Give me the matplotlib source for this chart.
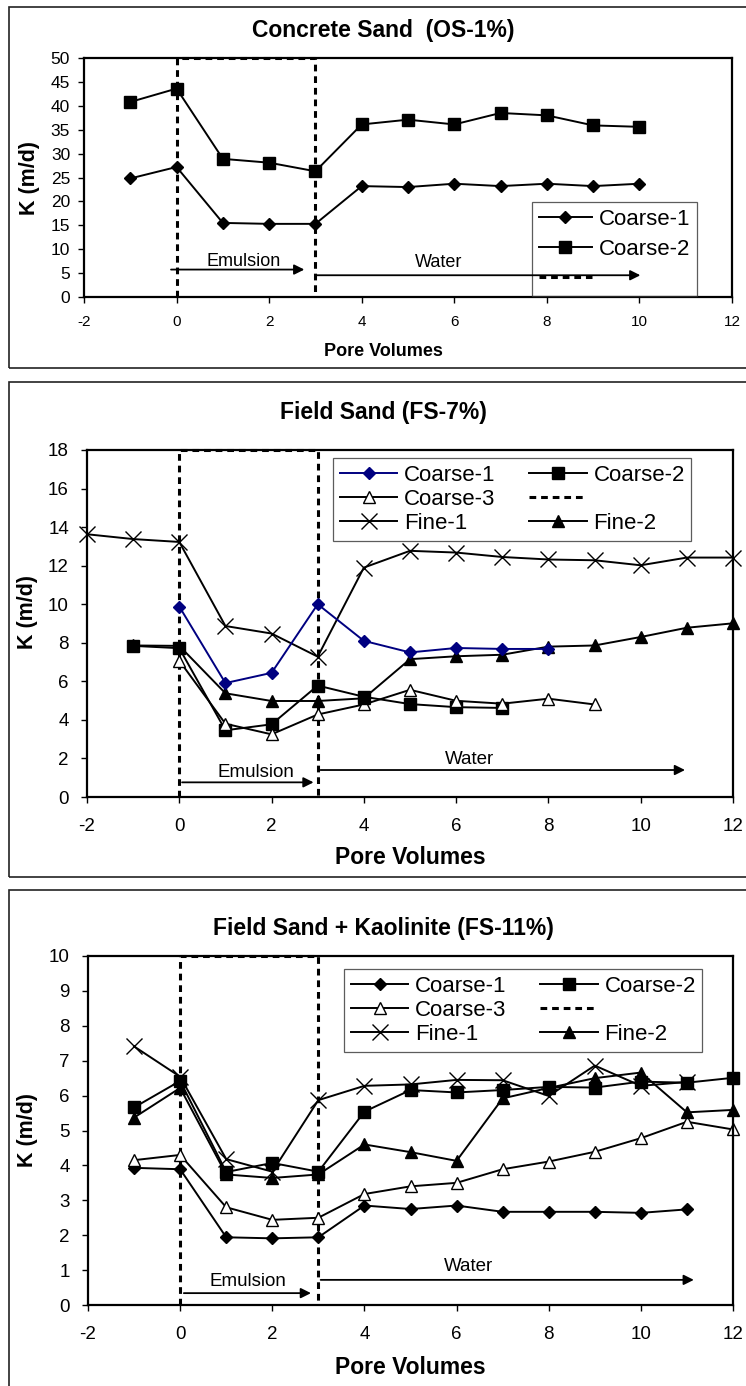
import matplotlib.pyplot as plt
from matplotlib.patches import Rectangle

W, H = 746, 1386
plt.rcParams['font.family'] = ['Liberation Sans', 'DejaVu Sans']
plt.rcParams['axes.unicode_minus'] = False

# ---- Concrete Sand (OS-1%)
os1_pv = [-1, 0, 1, 2, 3, 4, 5, 6, 7, 8, 9, 10]
os1_coarse1 = [24.8, 27.2, 15.5, 15.3, 15.3, 23.2, 23.0, 23.7, 23.2, 23.7, 23.2, 23.7]
os1_coarse2 = [40.8, 43.6, 28.9, 28.1, 26.3, 36.1, 37.1, 36.1, 38.5, 38.0, 35.9, 35.6]

# ---- Field Sand (FS-7%)
fs7_c1_pv = [0, 1, 2, 3, 4, 5, 6, 7, 8]
fs7_c1 = [9.88, 5.91, 6.44, 10.0, 8.1, 7.5, 7.73, 7.68, 7.68]
fs7_c2_pv = [-1, 0, 1, 2, 3, 4, 5, 6, 7]
fs7_c2 = [7.84, 7.72, 3.46, 3.77, 5.78, 5.2, 4.82, 4.66, 4.62]
fs7_c3_pv = [0, 1, 2, 3, 4, 5, 6, 7, 8, 9]
fs7_c3 = [7.07, 3.8, 3.25, 4.28, 4.8, 5.56, 4.99, 4.84, 5.1, 4.8]
fs7_f1_pv = [-2, -1, 0, 1, 2, 3, 4, 5, 6, 7, 8, 9, 10, 11, 12]
fs7_f1 = [13.63, 13.38, 13.23, 8.87, 8.48, 7.28, 11.9, 12.77, 12.68, 12.45, 12.32, 12.28, 12.02, 12.42, 12.42]
fs7_f2_pv = [-1, 0, 1, 2, 3, 4, 5, 6, 7, 8, 9, 10, 11, 12]
fs7_f2 = [7.86, 7.84, 5.38, 4.98, 4.98, 5.12, 7.15, 7.3, 7.38, 7.8, 7.86, 8.3, 8.78, 9.01]

# ---- Field Sand + Kaolinite (FS-11%)
fs11_pv = [-1, 0, 1, 2, 3, 4, 5, 6, 7, 8, 9, 10, 11, 12]
fs11_c1 = [3.93, 3.89, 1.94, 1.91, 1.94, 2.85, 2.75, 2.85, 2.67, 2.67, 2.67, 2.64, 2.74]
fs11_c2 = [5.66, 6.42, 3.81, 4.07, 3.82, 5.54, 6.16, 6.09, 6.16, 6.25, 6.23, 6.4, 6.37, 6.51]
fs11_c3 = [4.15, 4.3, 2.8, 2.44, 2.5, 3.18, 3.4, 3.5, 3.89, 4.11, 4.39, 4.78, 5.25, 5.03]
fs11_f1 = [7.41, 6.54, 4.18, 3.82, 5.87, 6.28, 6.32, 6.45, 6.44, 5.99, 6.86, 6.28, 6.39]
fs11_f2 = [5.37, 6.22, 3.74, 3.64, 3.74, 4.6, 4.38, 4.13, 5.92, 6.22, 6.5, 6.66, 5.52, 5.59]


def fx(px):
    return px / W


def fy(py):
    return 1 - py / H


fig = plt.figure(figsize=(W / 100, H / 100), dpi=100)

# frames around each chart
for top, bottom in [(7, 368), (382, 877), (890, 1400)]:
    fig.add_artist(Rectangle((fx(9), fy(bottom)), fx(760) - fx(9), fy(top) - fy(bottom),
                             transform=fig.transFigure, fill=False, lw=1.2, ec='#222222'))


def make_axes(left, right, top, bottom):
    ax = fig.add_axes([fx(left), fy(bottom), fx(right) - fx(left), fy(top) - fy(bottom)])
    for s in ax.spines.values():
        s.set_linewidth(1.6)
    ax.set_xlim(-2, 12)
    ax.set_xticks(range(-2, 13, 2))
    ax.tick_params(direction='out', length=4, width=1)
    return ax


def phase_marks(ax, ytop, emul, water, fs):
    # dashed outline of the emulsion injection window
    dash, = ax.plot([0, 0, 3, 3], [0, ytop, ytop, 0], color='k', lw=2.2,
                    ls=(0, (2.2, 1.6)), clip_on=False, zorder=1.5)
    (ex0, ex1, ey, etx, ety), (wx0, wx1, wy, wtx, wty) = emul, water
    ax.annotate('', xy=(ex1, ey), xytext=(ex0, ey),
                arrowprops=dict(arrowstyle='-|>', color='k', lw=1.3, mutation_scale=15), zorder=6)
    ax.annotate('', xy=(wx1, wy), xytext=(wx0, wy),
                arrowprops=dict(arrowstyle='-|>', color='k', lw=1.3, mutation_scale=15), zorder=6)
    ax.text(etx, ety, 'Emulsion', ha='center', va='center', fontsize=fs)
    ax.text(wtx, wty, 'Water', ha='center', va='center', fontsize=fs)
    return dash


def boxed_legend(ax, handles, labels, anchor, **kw):
    leg = ax.legend(handles, labels, loc='upper left', bbox_to_anchor=(fx(anchor[0]), fy(anchor[1])),
                    bbox_transform=fig.transFigure, handletextpad=0.3, borderaxespad=0,
                    fancybox=False, edgecolor='#333333', **kw)
    leg.get_frame().set_facecolor('none')
    leg.get_frame().set_linewidth(0.9)
    return leg


line_kw = dict(color='k', lw=1.4)

# ---------------- Concrete Sand (OS-1%)
ax1 = make_axes(84, 732, 58, 297)
ax1.set_ylim(0, 50)
ax1.set_yticks(range(0, 51, 5))
ax1.tick_params(axis='y', labelsize=12.5, pad=6)
ax1.tick_params(axis='x', labelsize=11, pad=9)
h1, = ax1.plot(os1_pv, os1_coarse1, marker='D', ms=6, **line_kw)
h2, = ax1.plot(os1_pv, os1_coarse2, marker='s', ms=8, **line_kw)
d1 = phase_marks(ax1, 50, (-0.18, 2.82, 5.74, 1.45, 7.5), (2.93, 10.08, 4.55, 5.67, 7.3), 13)
fig.text(fx(383), fy(31), 'Concrete Sand  (OS-1%)', ha='center', va='center',
         fontsize=16.5, fontweight='bold')
fig.text(fx(383), fy(352), 'Pore Volumes', ha='center', va='center', fontsize=13, fontweight='bold')
fig.text(fx(30), fy(178), 'K (m/d)', ha='center', va='center', rotation=90,
         fontsize=15.5, fontweight='bold')
boxed_legend(ax1, [h1, h2, d1], ['Coarse-1', 'Coarse-2', ''], (532, 202),
             fontsize=16, handlelength=2.4, labelspacing=0.4, borderpad=0.3)

# ---------------- Field Sand (FS-7%)
ax2 = make_axes(87, 733, 450, 797)
ax2.set_ylim(0, 18)
ax2.set_yticks(range(0, 19, 2))
ax2.tick_params(axis='y', labelsize=13.5, pad=9)
ax2.tick_params(axis='x', labelsize=13.5, pad=11)
g1, = ax2.plot(fs7_c1_pv, fs7_c1, marker='D', ms=6, color='#000080', lw=1.4, zorder=3)
g2, = ax2.plot(fs7_c2_pv, fs7_c2, marker='s', ms=8, **line_kw)
g3, = ax2.plot(fs7_c3_pv, fs7_c3, marker='^', ms=8, mfc='white', mec='k', **line_kw)
g4, = ax2.plot(fs7_f1_pv, fs7_f1, marker='x', ms=12, mew=1.0, clip_on=False, **line_kw)
g5, = ax2.plot(fs7_f2_pv, fs7_f2, marker='^', ms=8, clip_on=False, **line_kw)
d2 = phase_marks(ax2, 18, (0.0, 2.97, 0.76, 1.67, 1.26), (3.0, 11.02, 1.4, 6.28, 1.95), 13.5)
fig.text(fx(383), fy(412), 'Field Sand (FS-7%)', ha='center', va='center',
         fontsize=16.5, fontweight='bold')
fig.text(fx(410), fy(858), 'Pore Volumes', ha='center', va='center', fontsize=16.5, fontweight='bold')
fig.text(fx(27), fy(612), 'K (m/d)', ha='center', va='center', rotation=90,
         fontsize=15.5, fontweight='bold')
boxed_legend(ax2, [g1, g3, g4, g2, d2, g5],
             ['Coarse-1', 'Coarse-3', 'Fine-1', 'Coarse-2', '', 'Fine-2'], (333, 458),
             ncol=2, fontsize=16, handlelength=2.6, labelspacing=0.14, columnspacing=1.5,
             borderpad=0.3)

# ---------------- Field Sand + Kaolinite (FS-11%)
ax3 = make_axes(88, 733, 956, 1305)
ax3.set_ylim(0, 10)
ax3.set_yticks(range(0, 11))
ax3.tick_params(axis='y', labelsize=13.5, pad=9)
ax3.tick_params(axis='x', labelsize=13.5, pad=11)
k1, = ax3.plot(fs11_pv[:13], fs11_c1, marker='D', ms=6, **line_kw)
k2, = ax3.plot(fs11_pv, fs11_c2, marker='s', ms=8, clip_on=False, **line_kw)
k3, = ax3.plot(fs11_pv, fs11_c3, marker='^', ms=8, mfc='white', mec='k', clip_on=False, **line_kw)
k4, = ax3.plot(fs11_pv[:13], fs11_f1, marker='x', ms=12, mew=1.0, **line_kw)
k5, = ax3.plot(fs11_pv, fs11_f2, marker='^', ms=8, clip_on=False, **line_kw)
d3 = phase_marks(ax3, 10, (0.02, 2.9, 0.34, 1.47, 0.67), (2.99, 11.21, 0.72, 6.27, 1.09), 13.5)
fig.text(fx(383), fy(928), 'Field Sand + Kaolinite (FS-11%)', ha='center', va='center',
         fontsize=16.5, fontweight='bold')
fig.text(fx(410), fy(1368), 'Pore Volumes', ha='center', va='center', fontsize=16.5,
         fontweight='bold')
fig.text(fx(27), fy(1130), 'K (m/d)', ha='center', va='center', rotation=90,
         fontsize=15.5, fontweight='bold')
boxed_legend(ax3, [k1, k3, k4, k2, d3, k5],
             ['Coarse-1', 'Coarse-3', 'Fine-1', 'Coarse-2', '', 'Fine-2'], (344, 969),
             ncol=2, fontsize=16, handlelength=2.6, labelspacing=0.14, columnspacing=1.5,
             borderpad=0.3)

fig.savefig('out.png', dpi=100)
